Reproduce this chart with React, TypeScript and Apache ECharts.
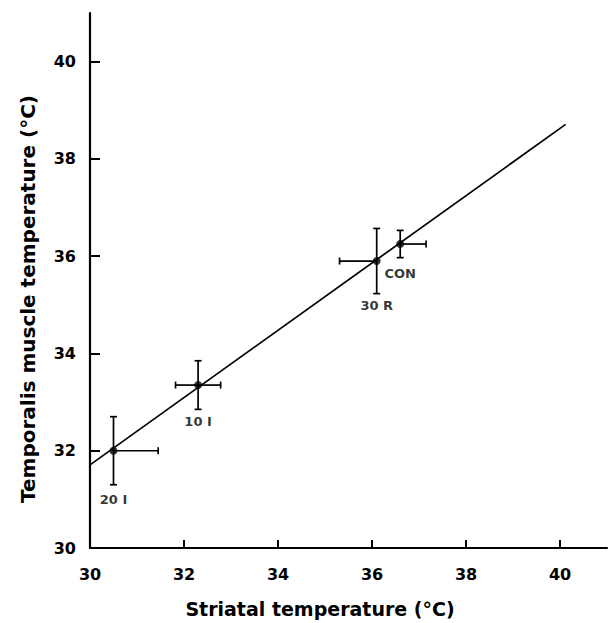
import React, { useEffect, useRef } from "react";
import * as echarts from "echarts";

// ---- data ----
const pointNames = ["20 I", "10 I", "30 R", "CON"];
const striatalTemp = [30.5, 32.3, 36.1, 36.6];
const temporalisTemp = [32.0, 33.35, 35.9, 36.25];
const striatalErrLeft = [0, 0.48, 0.79, 0];
const striatalErrRight = [0.95, 0.48, 0, 0.55];
const temporalisErr = [0.7, 0.5, 0.67, 0.28];
const fitX = [30, 40.12];
const fitY = [31.71, 38.71];
const xTickValues = [30, 32, 34, 36, 38, 40];
const yTickValues = [30, 32, 34, 36, 38, 40];

const FONT = "'DejaVu Sans', Arial, sans-serif";
const LABEL_GAP = [38, 26, 34, 19];

export default function App() {
  const ref = useRef<HTMLDivElement>(null);
  useEffect(() => {
    if (!ref.current) return;
    const chart = echarts.init(ref.current, undefined, { renderer: "svg" });

    const errData = striatalTemp.map((x, i) => [
      x,
      temporalisTemp[i],
      x - striatalErrLeft[i],
      x + striatalErrRight[i],
      temporalisTemp[i] - temporalisErr[i],
      temporalisTemp[i] + temporalisErr[i],
    ]);

    const pointData = striatalTemp.map((x, i) => ({
      name: pointNames[i],
      value: [x, temporalisTemp[i]],
      label: { distance: LABEL_GAP[i] },
    }));

    const fitData = fitX.map((x, i) => [x, fitY[i]]);

    const cap = 3.5;
    const lineStyle = { stroke: "#000", lineWidth: 1.7 };

    const option: any = {
      animation: false,
      backgroundColor: "#fff",
      grid: { left: 90, right: 3, top: 13, bottom: 75 },
      xAxis: {
        type: "value",
        min: 30,
        max: 41,
        interval: 2,
        axisLine: { show: true, lineStyle: { color: "#000", width: 2.2 } },
        axisTick: {
          show: true,
          inside: true,
          length: 8,
          lineStyle: { color: "#000", width: 2 },
          customValues: xTickValues,
        },
        axisLabel: {
          color: "#000",
          fontFamily: FONT,
          fontWeight: "bold",
          fontSize: 16,
          margin: 18,
          customValues: xTickValues,
          formatter: (v: number) => (v % 2 === 0 && v <= 40 ? String(v) : ""),
        },
        splitLine: { show: false },
      },
      yAxis: {
        type: "value",
        min: 30,
        max: 41,
        interval: 2,
        axisLine: { show: true, lineStyle: { color: "#000", width: 2.2 } },
        axisTick: {
          show: true,
          inside: true,
          length: 10,
          lineStyle: { color: "#000", width: 2 },
          customValues: yTickValues,
        },
        axisLabel: {
          color: "#000",
          fontFamily: FONT,
          fontWeight: "bold",
          fontSize: 16,
          margin: 14,
          customValues: yTickValues,
          formatter: (v: number) => (v % 2 === 0 && v <= 40 ? String(v) : ""),
        },
        splitLine: { show: false },
      },
      graphic: [
        {
          type: "text",
          x: 320,
          y: 609,
          style: {
            text: "Striatal temperature (°C)",
            fontFamily: FONT,
            fontWeight: "bold",
            fontSize: 19,
            fill: "#000",
            textAlign: "center",
            textVerticalAlign: "middle",
          },
        },
        {
          type: "text",
          x: 28,
          y: 299,
          rotation: Math.PI / 2,
          style: {
            text: "Temporalis muscle temperature (°C)",
            fontFamily: FONT,
            fontWeight: "bold",
            fontSize: 20,
            fill: "#000",
            textAlign: "center",
            textVerticalAlign: "middle",
          },
        },
      ],
      series: [
        {
          type: "line",
          data: fitData,
          showSymbol: false,
          symbol: "none",
          lineStyle: { color: "#000", width: 1.7 },
          z: 2,
        },
        {
          type: "custom",
          data: errData,
          encode: { x: 0, y: 1 },
          z: 3,
          renderItem: (params: any, api: any) => {
            const c = api.coord([api.value(0), api.value(1)]);
            const xl = api.coord([api.value(2), api.value(1)]);
            const xh = api.coord([api.value(3), api.value(1)]);
            const yl = api.coord([api.value(0), api.value(4)]);
            const yh = api.coord([api.value(0), api.value(5)]);
            const children: any[] = [
              { type: "line", shape: { x1: c[0], y1: yl[1], x2: c[0], y2: yh[1] }, style: lineStyle },
              { type: "line", shape: { x1: c[0] - cap, y1: yl[1], x2: c[0] + cap, y2: yl[1] }, style: lineStyle },
              { type: "line", shape: { x1: c[0] - cap, y1: yh[1], x2: c[0] + cap, y2: yh[1] }, style: lineStyle },
            ];
            if (Math.abs(xl[0] - c[0]) > 0.5) {
              children.push(
                { type: "line", shape: { x1: xl[0], y1: c[1], x2: c[0], y2: c[1] }, style: lineStyle },
                { type: "line", shape: { x1: xl[0], y1: c[1] - cap, x2: xl[0], y2: c[1] + cap }, style: lineStyle }
              );
            }
            if (Math.abs(xh[0] - c[0]) > 0.5) {
              children.push(
                { type: "line", shape: { x1: c[0], y1: c[1], x2: xh[0], y2: c[1] }, style: lineStyle },
                { type: "line", shape: { x1: xh[0], y1: c[1] - cap, x2: xh[0], y2: c[1] + cap }, style: lineStyle }
              );
            }
            return { type: "group", children };
          },
        },
        {
          type: "scatter",
          data: pointData,
          symbol: "circle",
          symbolSize: 8,
          itemStyle: { color: "#000" },
          z: 4,
          label: {
            show: true,
            position: "bottom",
            formatter: (p: any) => p.name,
            color: "#000",
            fontFamily: FONT,
            fontWeight: "bold",
            fontSize: 13,
          },
        },
      ],
    };

    chart.setOption(option);
    return () => chart.dispose();
  }, []);

  return (
    <div
      ref={ref}
      style={{ position: "absolute", left: 0, top: 0, width: 610, height: 623, background: "#fff" }}
    />
  );
}
